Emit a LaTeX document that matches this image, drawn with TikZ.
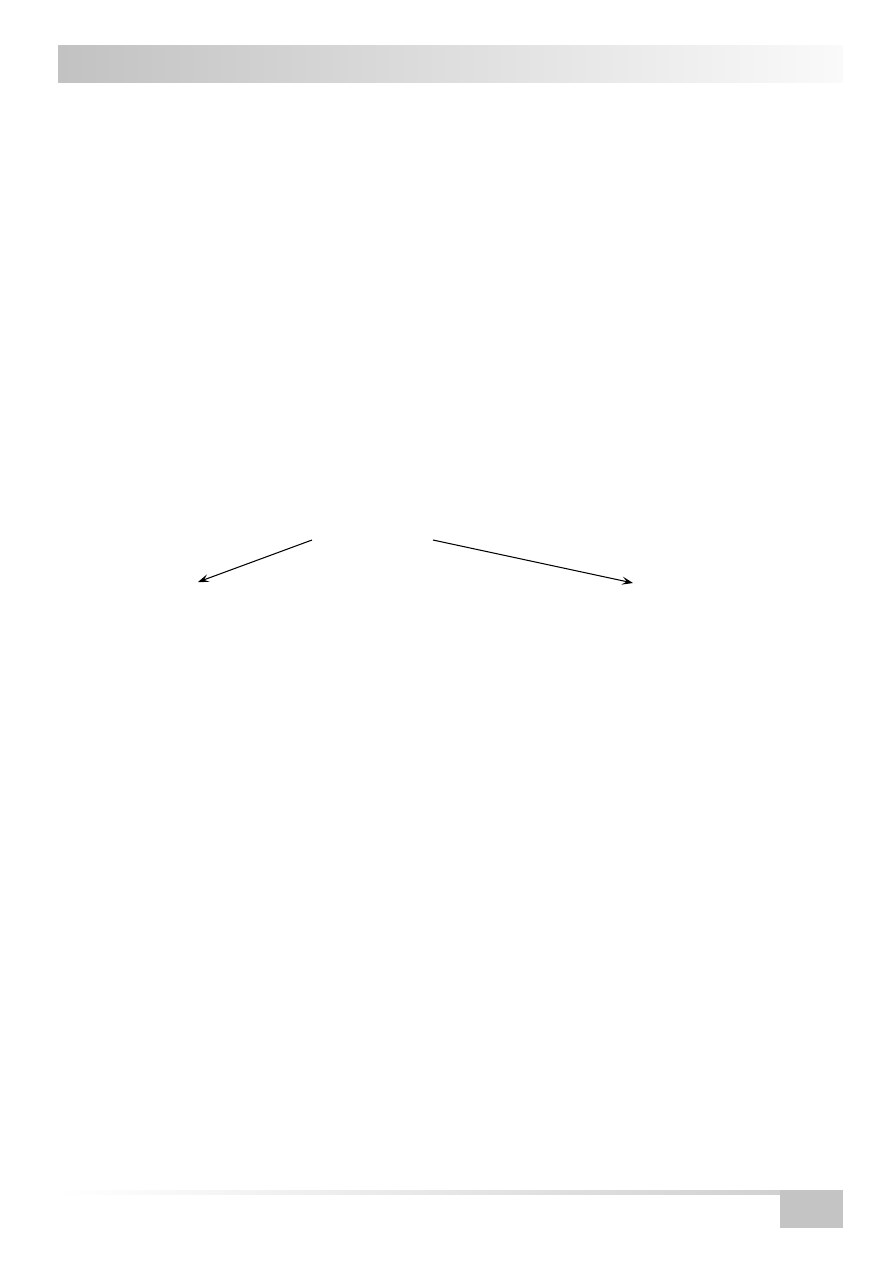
\documentclass[tikz,border=0pt]{standalone}
\usetikzlibrary{arrows.meta}
\begin{document}
\begin{tikzpicture}[x=0.02352cm, y=-0.02352cm, line width=0.7pt,
	band/.style = {draw=none, shading=axis, shading angle=90},
	flow/.style = {-{Stealth[length=2.6mm,width=1.9mm,inset=1.1mm]}}]
	\useasboundingbox (0,0) rectangle (893,1263);
	%Header band and footer
	\path[band, left color=black!24, right color=black!2] (58,45) rectangle (843,82);
	\path[band, left color=white, right color=black!18] (58,1190) rectangle (780,1194);
	\fill[black!23] (780,1190) rectangle (843,1228);
	
	%End points of the two arrows
	\coordinate (top1) at (312,540);
	\coordinate (left1) at (198,582);
	\coordinate (top2) at (433,540);
	\coordinate (right1) at (633,583);
	
	\draw[flow] (top1) -- (left1); %Left arrow
	\draw[flow] (top2) -- (right1); %Right arrow
\end{tikzpicture}
\end{document}
